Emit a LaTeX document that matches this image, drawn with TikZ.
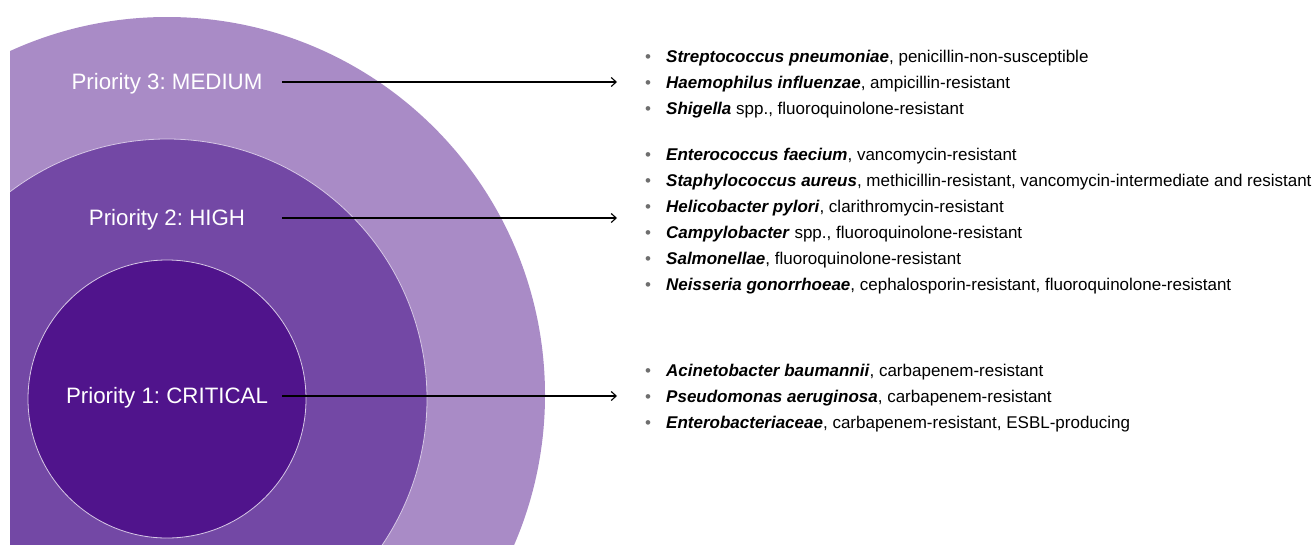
\documentclass[tikz,border=0pt]{standalone}
\usepackage{fontspec}
\setmainfont{Liberation Sans}
\usetikzlibrary{arrows.meta}
\frenchspacing
\definecolor{ring3}{RGB}{169,139,198}
\definecolor{ring2}{RGB}{115,72,165}
\definecolor{ring1}{RGB}{80,20,140}
\definecolor{ringline}{RGB}{215,200,230}
\definecolor{bulletgray}{RGB}{110,110,110}
\tikzset{
  lvl/.style={text=white, font=\fontsize{22.3}{26}\selectfont, inner sep=0pt},
  item/.style={anchor=mid west, inner sep=0pt, font=\fontsize{17}{20}\selectfont},
  conn/.style={line width=1.3pt, -{Straight Barb[length=5pt,width=9pt,line width=1.1pt]}},
}
\newcommand{\itm}[2]{\makebox[21pt][l]{\textcolor{bulletgray}{\textbullet}}\textbf{\textit{#1}}#2}
\begin{document}
\begin{tikzpicture}[x=1pt,y=-1pt]
\useasboundingbox (0,0) rectangle (1316,544);
\begin{scope}
\clip (10,0) rectangle (1316,544);
\fill[ring3] (167,395) circle (378);
\filldraw[fill=ring2, draw=ringline, line width=0.8pt] (167,399) circle (260);
\filldraw[fill=ring1, draw=ringline, line width=0.8pt] (167,399) circle (139);
\end{scope}
\node[lvl] (l3) at (167,84) {\frenchspacing Priority 3: MEDIUM};
\node[lvl] (l2) at (167,220) {\frenchspacing Priority 2: HIGH};
\node[lvl] (l1) at (167,398) {\frenchspacing Priority 1: CRITICAL};
\coordinate (s3) at (282,82);  \coordinate (t3) at (617,82);
\coordinate (s2) at (282,218); \coordinate (t2) at (617,218);
\coordinate (s1) at (282,396); \coordinate (t1) at (617,396);
\draw[conn] (s3) -- (t3);
\draw[conn] (s2) -- (t2);
\draw[conn] (s1) -- (t1);
\node[item] (m1) at (645,60) {\itm{Streptococcus pneumoniae}{, penicillin-non-susceptible}};
\node[item] (m2) at (645,86) {\itm{Haemophilus influenzae}{, ampicillin-resistant}};
\node[item] (m3) at (645,112) {\itm{Shigella}{ spp., fluoroquinolone-resistant}};
\node[item] (h1) at (645,158) {\itm{Enterococcus faecium}{, vancomycin-resistant}};
\node[item] (h2) at (645,184) {\itm{Staphylococcus aureus}{, methicillin-resistant, vancomycin-intermediate and resistant}};
\node[item] (h3) at (645,210) {\itm{Helicobacter pylori}{, clarithromycin-resistant}};
\node[item] (h4) at (645,236) {\itm{Campylobacter}{ spp., fluoroquinolone-resistant}};
\node[item] (h5) at (645,262) {\itm{Salmonellae}{, fluoroquinolone-resistant}};
\node[item] (h6) at (645,288) {\itm{Neisseria gonorrhoeae}{, cephalosporin-resistant, fluoroquinolone-resistant}};
\node[item] (c1) at (645,374) {\itm{Acinetobacter baumannii}{, carbapenem-resistant}};
\node[item] (c2) at (645,400) {\itm{Pseudomonas aeruginosa}{, carbapenem-resistant}};
\node[item] (c3) at (645,426) {\itm{Enterobacteriaceae}{, carbapenem-resistant, ESBL-producing}};
\end{tikzpicture}
\end{document}
